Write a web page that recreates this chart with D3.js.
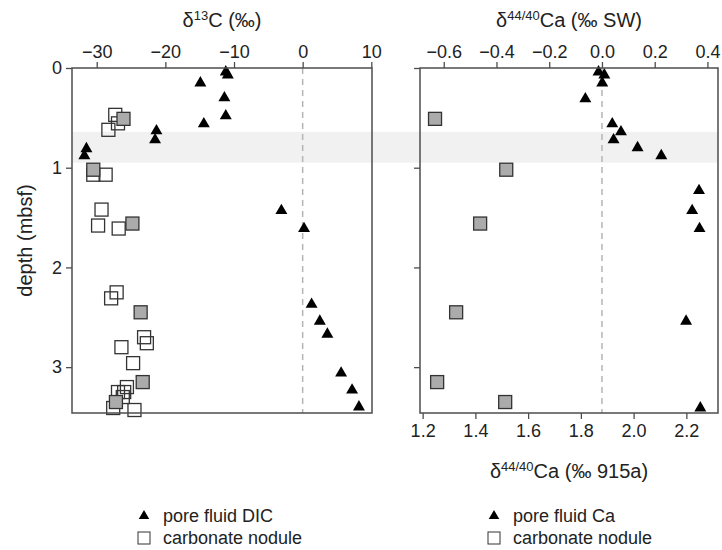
<!DOCTYPE html>
<html><head><meta charset="utf-8">
<script src="https://cdn.jsdelivr.net/npm/d3@7"></script>
<style>
body{margin:0;background:#fff;}
svg{display:block;font-family:"Liberation Sans",Arial,sans-serif;}
</style></head>
<body><svg id="c" width="722" height="550"></svg>
<script>
// ---- data ----
// pore fluid (depth in mbsf)
const dicDepth = [0.04,0.07,0.15,0.30,0.48,0.56,0.63,0.72,0.81,0.88,1.43,1.61,2.37,2.54,2.67,3.06,3.23,3.40];
const dicD13C  = [-11.2,-10.9,-14.9,-11.4,-11.2,-14.4,-21.3,-21.5,-31.5,-31.8,-3.1,0.2,1.3,2.5,3.6,5.6,7.2,8.2];
const caDepth  = [0.04,0.07,0.15,0.31,0.56,0.64,0.72,0.80,0.88,1.23,1.43,1.61,2.54,3.41];
const caD44SW  = [-0.013,0.009,0.001,-0.063,0.039,0.072,0.044,0.135,0.225,0.368,0.342,0.370,0.319,0.373];
// carbonate nodules (d13C only)
const noduleDepth = [0.47,0.555,0.62,1.07,1.07,1.42,1.58,1.61,2.25,2.31,2.70,2.76,2.80,2.96,3.20,3.25,3.25,3.30,3.41,3.43];
const noduleD13C  = [-27.3,-26.9,-28.3,-30.5,-28.7,-29.3,-29.8,-26.8,-27.1,-27.9,-23.1,-22.7,-26.4,-24.7,-25.6,-26.0,-26.9,-26.2,-27.6,-24.5];
// carbonate nodules with both d13C and d44/40Ca
const noduleCaDepth = [0.51,1.02,1.56,2.45,3.15,3.35];
const noduleCaD13C  = [-26.1,-30.5,-24.8,-23.6,-23.3,-27.2];
const noduleCaD44SW = [-0.633,-0.363,-0.462,-0.553,-0.625,-0.367];
// shaded depth interval
const bandDepth = [0.64,0.95];
// ticks
const depthTicks = [0,1,2,3];
const d13CTicks = [-30,-20,-10,0,10];
const caSWTicks = [-0.6,-0.4,-0.2,0.0,0.2,0.4];
const ca915Ticks = [1.2,1.4,1.6,1.8,2.0,2.2];
const swOffset915 = 1.88; // 0 ‰ SW on the 915a scale

// ---- layout ----
const svg = d3.select("#c");
const yTop = 68, yBot = 413;
const L = {x0:72, x1:372}, R = {x0:420, x1:718};
const y = d3.scaleLinear().domain([0,3.46]).range([yTop,yBot]);
const xC = d3.scaleLinear().domain([-33.6,10.1]).range([L.x0,L.x1]);
const xCa = d3.scaleLinear().domain([-0.69,0.44]).range([R.x0,R.x1]);
const xCa915 = d3.scaleLinear().domain([-0.69+swOffset915,0.44+swOffset915]).range([R.x0,R.x1]);

const frameCol = "#4d4d4d", sqFill = "#ababab", sqStroke = "#333";
const tri = d3.symbol().type(d3.symbolTriangle).size(62);
const sq = 13;

// band
svg.append("rect").attr("x",L.x0).attr("width",R.x1-L.x0)
  .attr("y",y(bandDepth[0])).attr("height",y(bandDepth[1])-y(bandDepth[0]))
  .attr("fill","#f1f1f1");

// dashed zero lines
[xC(0), xCa(0)].forEach(xx=>{
  svg.append("line").attr("x1",xx).attr("x2",xx).attr("y1",yTop).attr("y2",yBot)
    .attr("stroke","#b5b5b5").attr("stroke-width",1.5).attr("stroke-dasharray","6,5");
});

function squares(g, xs, ds, xScale, filled){
  g.selectAll(null).data(d3.zip(xs,ds)).join("rect")
    .attr("x",d=>xScale(d[0])-sq/2).attr("y",d=>y(d[1])-sq/2)
    .attr("width",sq).attr("height",sq)
    .attr("fill",filled?sqFill:"none").attr("stroke",sqStroke).attr("stroke-width",1.3);
}
function triangles(g, xs, ds, xScale){
  g.selectAll(null).data(d3.zip(xs,ds)).join("path")
    .attr("d",tri).attr("transform",d=>`translate(${xScale(d[0])},${y(d[1])})`)
    .attr("fill","#000");
}
const gL = svg.append("g"), gR = svg.append("g");
squares(gL, noduleD13C, noduleDepth, xC, false);
squares(gL, noduleCaD13C, noduleCaDepth, xC, true);
triangles(gL, dicD13C, dicDepth, xC);
squares(gR, noduleCaD44SW, noduleCaDepth, xCa, true);
triangles(gR, caD44SW, caDepth, xCa);

// frames
[L,R].forEach(p=>{
  svg.append("rect").attr("x",p.x0).attr("y",yTop).attr("width",p.x1-p.x0).attr("height",yBot-yTop)
    .attr("fill","none").attr("stroke",frameCol).attr("stroke-width",1.5);
});

// axes
function styleAxis(g){
  g.select(".domain").remove();
  g.selectAll(".tick line").attr("stroke",frameCol).attr("stroke-width",1.3);
  g.selectAll(".tick text").attr("fill","#222").style("font-size","18px").style("font-family","Liberation Sans, Arial, sans-serif");
}
svg.append("g").attr("transform",`translate(${L.x0},0)`)
  .call(d3.axisLeft(y).tickValues(depthTicks).tickSize(6).tickPadding(4).tickFormat(d3.format("d"))).call(styleAxis);
svg.append("g").attr("transform",`translate(${R.x0},0)`)
  .call(d3.axisLeft(y).tickValues(depthTicks).tickSize(6).tickFormat("")).call(styleAxis);
svg.append("g").attr("transform",`translate(0,${yTop})`)
  .call(d3.axisTop(xC).tickValues(d13CTicks).tickSize(6).tickPadding(4).tickFormat(d3.format("d"))).call(styleAxis);
svg.append("g").attr("transform",`translate(0,${yTop})`)
  .call(d3.axisTop(xCa).tickValues(caSWTicks).tickSize(6).tickPadding(4).tickFormat(d3.format(".1f"))).call(styleAxis);
svg.append("g").attr("transform",`translate(0,${yBot})`)
  .call(d3.axisBottom(xCa915).tickValues(ca915Ticks).tickSize(6).tickPadding(5).tickFormat(d3.format(".1f"))).call(styleAxis);

// titles
function title(x, yy, parts, rotate){
  const t = svg.append("text").attr("text-anchor","middle").attr("fill","#222").style("font-size","20px");
  if(rotate) t.attr("transform",`translate(${x},${yy}) rotate(-90)`); else t.attr("x",x).attr("y",yy);
  parts.forEach(p=>{
    const ts = t.append("tspan").text(p[0]);
    if(p[1]==="sup") ts.style("font-size","13px").attr("baseline-shift","7");
  });
}
title((L.x0+L.x1)/2, 27, [["δ"],["13","sup"],["C (‰)"]]);
title((R.x0+R.x1)/2, 27, [["δ"],["44/40","sup"],["Ca (‰ SW)"]]);
title((R.x0+R.x1)/2, 478, [["δ"],["44/40","sup"],["Ca (‰ 915a)"]]);
title(32, (yTop+yBot)/2, [["depth (mbsf)"]], true);

// legends
const legL = [{sym:"tri",label:"pore fluid DIC"},{sym:"sq",label:"carbonate nodule"}];
const legR = [{sym:"tri",label:"pore fluid Ca"},{sym:"sq",label:"carbonate nodule"}];
function legend(x, items){
  items.forEach((it,i)=>{
    const yy = 516 + i*22;
    if(it.sym==="tri") svg.append("path").attr("d",d3.symbol().type(d3.symbolTriangle).size(48))
      .attr("transform",`translate(${x},${yy})`).attr("fill","#000");
    else svg.append("rect").attr("x",x-6).attr("y",yy-6).attr("width",12).attr("height",12)
      .attr("fill","none").attr("stroke","#444").attr("stroke-width",1.1);
    svg.append("text").attr("x",x+19).attr("y",yy+6).attr("fill","#222").style("font-size","18px").text(it.label);
  });
}
legend(144, legL);
legend(494, legR);
</script></body></html>
